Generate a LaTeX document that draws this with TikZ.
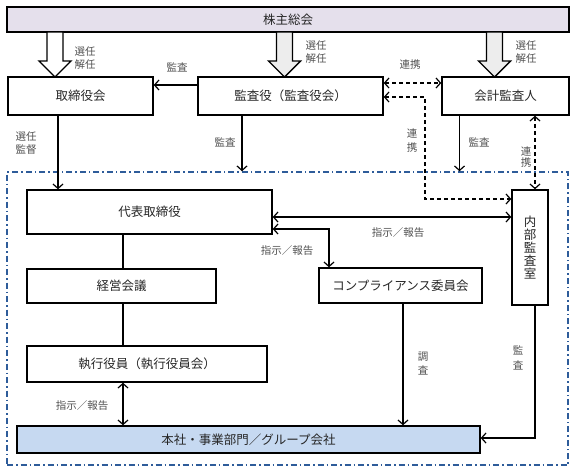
\documentclass[tikz,border=0pt]{standalone}
\usepackage{fontspec}
\setmainfont{Noto Sans CJK JP}
\usetikzlibrary{arrows.meta,calc}
\definecolor{lav}{HTML}{E5E0EC}
\definecolor{lblue}{HTML}{C6D9F1}
\definecolor{hgray}{HTML}{EDEDED}
\definecolor{frameblue}{HTML}{2E5C9A}
\definecolor{boxtext}{HTML}{262626}
\definecolor{labtext}{HTML}{505050}
\tikzset{
  box/.style={draw=black, line width=1.4pt, rectangle, inner sep=0pt, text=boxtext,
    font=\fontsize{12.5}{14}\selectfont},
  lab/.style={text=labtext, inner sep=0pt, font=\fontsize{10.5}{13.5}\selectfont, align=center},
  conn/.style={line width=1.2pt, draw=black},
  tip/.style={arrows={-Straight Barb[length=4.5pt,width=10pt,line width=1.2pt]}},
  bitip/.style={arrows={Straight Barb[length=4.5pt,width=10pt,line width=1.2pt]-Straight Barb[length=4.5pt,width=10pt,line width=1.2pt]}},
  dsh/.style={dash pattern=on 4pt off 3pt},
  blockarrow/.style={draw=black, line width=1.4pt, line join=miter},
  frame/.style={draw=frameblue, line width=1.5pt, dash pattern=on 6pt off 3pt on 1.5pt off 3pt}
}
\newcommand\blkarrow[2]{%
  \draw[blockarrow, fill=#2] ({#1-8},32) -- ({#1+8},32) -- ({#1+8},61) -- ({#1+16},61)
    -- (#1,77) -- ({#1-16},61) -- ({#1-8},61) -- cycle;}
\begin{document}
\begin{tikzpicture}[x=1pt,y=-1pt]
\useasboundingbox (0,0) rectangle (577,472);
% frame
\node[frame, minimum width=561pt, minimum height=293pt, inner sep=0pt] (frm) at (287.5,318.5) {};
% top nodes
\node[box, fill=lav, minimum width=562pt, minimum height=25pt] (sh) at (288,19.5) {株主総会};
\node[box, minimum width=145pt, minimum height=38pt] (tori) at (80.5,96) {取締役会};
\node[box, minimum width=185pt, minimum height=38pt] (kansa) at (290.5,96) {監査役（監査役会）};
\node[box, minimum width=127pt, minimum height=38pt] (kaikei) at (505.5,96) {会計監査人};
% block arrows
\blkarrow{55}{white}
\blkarrow{284.5}{hgray}
\blkarrow{494.5}{hgray}
% inner nodes
\node[box, fill=white, minimum width=245pt, minimum height=44pt] (daihyo) at (149.5,212) {代表取締役};
\node[box, fill=white, minimum width=36pt, minimum height=115pt, align=center,
  font=\fontsize{12.5}{12.8}\selectfont] (naibu) at (530,247.5) {内\\部\\監\\査\\室};
\node[box, minimum width=189pt, minimum height=34pt] (keiei) at (121.5,286) {経営会議};
\node[box, minimum width=163pt, minimum height=35pt] (comp) at (400.5,285.5) {コンプライアンス委員会};
\node[box, minimum width=240pt, minimum height=36pt] (shikko) at (147,364) {執行役員（執行役員会）};
\node[box, fill=lblue, minimum width=463pt, minimum height=27pt] (honsha) at (248.5,439.5) {本社・事業部門／グループ会社};
% coordinates
\coordinate (d1) at (425,97);
\coordinate (d2) at (425,199);
% connectors
\draw[conn, tip] ([yshift=11pt]kansa.west) -- ([yshift=11pt]tori.east);
\draw[conn, bitip, dsh] ([yshift=13pt]kansa.east) -- ([yshift=13pt]kaikei.west);
\draw[conn, bitip, dsh] (d1 -| kansa.east) -- (d1) -- (d2) -- (d2 -| naibu.west);
\draw[conn, tip] ([xshift=-22.5pt]tori.south) -- ([xshift=-22.5pt]tori.south |- daihyo.north);
\draw[conn, tip] ([xshift=-48.5pt]kansa.south) -- ([xshift=-48.5pt]kansa.south |- frm.north);
\draw[conn, tip] ([xshift=-46pt]kaikei.south) -- ([xshift=-46pt]kaikei.south |- frm.north);
\draw[conn, bitip, dsh] ([xshift=29.5pt]kaikei.south) -- ([xshift=29.5pt]kaikei.south |- naibu.north);
\draw[conn, bitip] ([yshift=-5pt]daihyo.east) -- ([yshift=-5pt]daihyo.east -| naibu.west);
\draw[conn, bitip] ([yshift=-17pt]daihyo.east) -| ([xshift=-71.5pt]comp.north);
\draw[conn] ([xshift=-26.5pt]daihyo.south) -- ([xshift=-26.5pt]daihyo.south |- keiei.north);
\draw[conn] ([xshift=1.5pt]keiei.south) -- ([xshift=1.5pt]keiei.south |- shikko.north);
\draw[conn, bitip] ([xshift=-24pt]shikko.south) -- ([xshift=-24pt]shikko.south |- honsha.north);
\draw[conn, tip] ([xshift=2.5pt]comp.south) -- ([xshift=2.5pt]comp.south |- honsha.north);
\draw[conn, tip] ([xshift=5pt]naibu.south) |- ([yshift=1.5pt]honsha.east);
% labels
\node[lab] (l1) at (85,58) {選任\\解任};
\node[lab] (l2) at (316,52) {選任\\解任};
\node[lab] (l3) at (526,52) {選任\\解任};
\node[lab] (l4) at (177,67) {監査};
\node[lab] (l5) at (410,65) {連携};
\node[lab] (l6) at (26,143) {選任\\監督};
\node[lab] (l7) at (225,142) {監査};
\node[lab, font=\fontsize{10.5}{14}\selectfont] (l8) at (412,141) {連\\携};
\node[lab] (l9) at (479,142) {監査};
\node[lab, font=\fontsize{10.5}{11.5}\selectfont] (l10) at (526,157) {連\\携};
\node[lab] (l11) at (398,233) {指示／報告};
\node[lab] (l12) at (287,251) {指示／報告};
\node[lab] (l13) at (82,406) {指示／報告};
\node[lab, font=\fontsize{10.5}{14}\selectfont] (l14) at (423,364) {調\\査};
\node[lab, font=\fontsize{10.5}{15}\selectfont] (l15) at (518,358) {監\\査};
\end{tikzpicture}
\end{document}
